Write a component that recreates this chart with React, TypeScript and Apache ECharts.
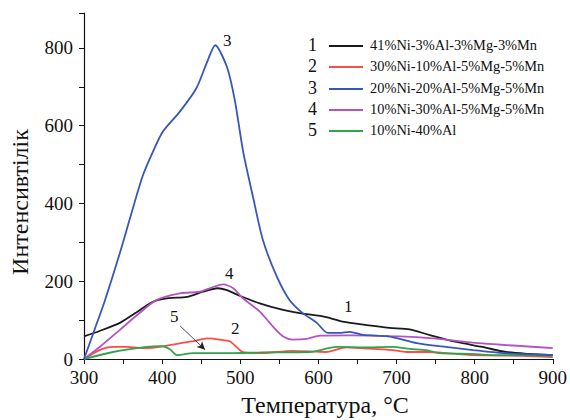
import React, { useEffect, useRef } from "react";
import * as echarts from "echarts";

// Series 1: 41%Ni-3%Al-3%Mg-3%Mn
const t1 = [300, 320, 346, 368, 388, 406, 432, 452, 471, 483, 500, 525, 551, 576, 610, 631, 662, 691, 717, 742, 777, 810, 840, 870, 900];
const v1 = [58, 72, 93, 121, 147, 156, 160, 173, 182, 177, 162, 143, 128, 118, 108, 96, 87, 80, 76, 62, 44, 31, 18, 13, 10];
// Series 2: 30%Ni-10%Al-5%Mg-5%Mn
const t2 = [300, 320, 337, 355, 380, 397, 419, 440, 458, 474, 487, 500, 505, 525, 567, 610, 636, 653, 695, 713, 738, 777, 797, 861, 900];
const v2 = [0, 23, 31, 31, 28, 31, 39, 46, 53, 50, 45, 22, 17, 15, 21, 18, 30, 28, 23, 18, 18, 13, 10, 8, 5];
// Series 3: 20%Ni-20%Al-5%Mg-5%Mn
const t3 = [300, 312, 327, 347, 360, 375, 388, 401, 423, 444, 457, 468, 483, 493, 504, 516, 529, 547, 563, 580, 598, 612, 627, 640, 657, 687, 700, 726, 755, 798, 840, 900];
const v3 = [0, 67, 152, 280, 370, 470, 532, 585, 637, 697, 761, 807, 751, 666, 530, 420, 306, 211, 152, 118, 93, 67, 67, 70, 62, 59, 54, 41, 33, 23, 15, 10];
// Series 4: 10%Ni-30%Al-5%Mg-5%Mn
const t4 = [300, 320, 346, 368, 393, 423, 448, 465, 478, 491, 503, 525, 542, 555, 567, 585, 602, 640, 704, 746, 810, 900];
const v4 = [0, 31, 75, 113, 152, 169, 173, 185, 192, 182, 157, 122, 83, 58, 50, 52, 60, 61, 58, 53, 40, 28];
// Series 5: 10%Ni-40%Al
const t5 = [300, 337, 380, 399, 410, 419, 440, 487, 529, 589, 623, 660, 695, 717, 738, 755, 797, 819, 866, 900];
const v5 = [0, 18, 31, 33, 25, 10, 15, 15, 17, 18, 31, 30, 31, 26, 23, 15, 13, 10, 10, 8];

const names = [
  "41%Ni-3%Al-3%Mg-3%Mn",
  "30%Ni-10%Al-5%Mg-5%Mn",
  "20%Ni-20%Al-5%Mg-5%Mn",
  "10%Ni-30%Al-5%Mg-5%Mn",
  "10%Ni-40%Al",
];
const colors = ["#1a1a1a", "#ff4a4a", "#3757b8", "#b453c2", "#2fa44a"];
const temps = [t1, t2, t3, t4, t5];
const vals = [v1, v2, v3, v4, v5];

const xTitle = "Температура, °C";
const yTitle = "Интенсивтілік";

// arrow from label "5" to curve 5 (data coordinates)
const arrowStart = [423, 85];
const arrowEnd = [455, 24];

const SERIF = "'Liberation Serif', 'Times New Roman', serif";

export default function App() {
  const ref = useRef<HTMLDivElement>(null);
  useEffect(() => {
    if (!ref.current) return;
    document.body.style.margin = "0";
    const chart = echarts.init(ref.current, undefined, { renderer: "svg" });
    const series: any[] = names.map((n, i) => ({
      name: n,
      type: "line",
      data: temps[i].map((t, j) => [t, vals[i][j]]),
      smooth: 0.25,
      showSymbol: false,
      lineStyle: { color: colors[i], width: 1.8 },
      itemStyle: { color: colors[i] },
      z: i === 2 ? 5 : 3,
    }));
    series[4].markLine = {
      silent: true,
      symbol: ["none", "arrow"],
      symbolSize: [6, 8],
      label: { show: false },
      lineStyle: { color: "#222", width: 0.8, type: "solid" },
      data: [[{ coord: arrowStart }, { coord: arrowEnd }]],
    };

    const g: any[] = [];
    const rowY = [46, 67, 89, 110, 131];
    names.forEach((n, i) => {
      g.push({
        type: "text",
        left: 308,
        top: rowY[i] - 10,
        style: { text: String(i + 1), font: `18px ${SERIF}`, fill: "#111" },
      });
      g.push({
        type: "line",
        shape: { x1: 329, y1: rowY[i], x2: 363, y2: rowY[i] },
        style: { stroke: colors[i], lineWidth: 1.8 },
      });
      g.push({
        type: "text",
        left: 370,
        top: rowY[i] - 8,
        style: { text: n, font: `14.4px ${SERIF}`, fill: "#111" },
      });
    });
    const annots = [
      { t: "1", x: 344, y: 298 },
      { t: "2", x: 231, y: 320 },
      { t: "3", x: 223, y: 32 },
      { t: "4", x: 225, y: 265 },
      { t: "5", x: 170, y: 308 },
    ];
    annots.forEach((a) =>
      g.push({
        type: "text",
        left: a.x,
        top: a.y,
        style: { text: a.t, font: `17px ${SERIF}`, fill: "#111" },
      })
    );
    g.push({
      type: "text",
      x: 325,
      y: 405,
      style: { text: xTitle, font: `24px ${SERIF}`, fill: "#111", align: "center", verticalAlign: "middle" },
    });
    g.push({
      type: "text",
      x: 20,
      y: 202,
      rotation: Math.PI / 2,
      style: { text: yTitle, font: `24px ${SERIF}`, fill: "#111", align: "center", verticalAlign: "middle" },
    });

    chart.setOption({
      animation: false,
      backgroundColor: "#fff",
      grid: { left: 84, right: 17, top: 13, bottom: 61 },
      xAxis: {
        type: "value",
        min: 300,
        max: 900,
        interval: 50,
        splitLine: { show: false },
        axisLine: { lineStyle: { color: "#111", width: 1.2 } },
        axisTick: { length: 5, lineStyle: { color: "#111" } },
        axisLabel: {
          fontFamily: SERIF,
          fontSize: 19,
          color: "#111",
          margin: 9,
          formatter: (v: number) => (v % 100 === 0 ? String(v) : ""),
        },
      },
      yAxis: {
        type: "value",
        min: 0,
        max: 890,
        interval: 100,
        splitLine: { show: false },
        axisLine: { show: true, lineStyle: { color: "#111", width: 1.2 } },
        axisTick: { show: true, length: 5, lineStyle: { color: "#111" } },
        axisLabel: {
          fontFamily: SERIF,
          fontSize: 19,
          color: "#111",
          margin: 11,
          formatter: (v: number) => (v % 200 === 0 ? String(v) : ""),
        },
      },
      graphic: g,
      series,
    });
    return () => chart.dispose();
  }, []);
  return <div ref={ref} style={{ width: 570, height: 420 }} />;
}
